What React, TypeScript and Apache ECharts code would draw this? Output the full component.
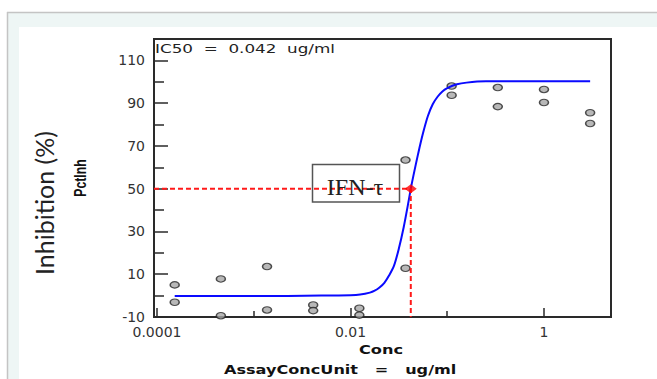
import { useEffect, useRef } from 'react';
import * as echarts from 'echarts';

// Assay concentrations (ug/ml), 3-fold dilution series
const concentrations = [0.0001524, 0.0004572, 0.001372, 0.004115, 0.01235, 0.03704, 0.1111, 0.3333, 1, 3];
// Percent inhibition, two replicates per concentration
const replicateA = [5.0, 7.8, 13.6, -4.4, -5.9, 63.4, 98.0, 97.3, 96.4, 85.5];
const replicateB = [-3.1, -9.4, -6.7, -7.0, -9.1, 12.8, 93.7, 88.4, 90.3, 80.5];

// Fitted curve
const fitConc = [
  0.0001524, 0.001, 0.005, 0.01, 0.01259, 0.01585, 0.01778, 0.01995, 0.02239, 0.02512,
  0.02818, 0.03162, 0.03548, 0.03981, 0.042, 0.04467, 0.05012, 0.05623, 0.0631, 0.07079,
  0.07943, 0.08913, 0.1, 0.1259, 0.1585, 0.2512, 1, 3,
];
const fitPct = [
  -0.2, -0.2, 0.0, 0.2, 0.5, 1.4, 2.3, 3.8, 6.0, 9.5,
  14, 22, 32, 44, 50, 56, 66.5, 76, 84, 89.5,
  93, 95.5, 97, 98.8, 99.6, 100.2, 100.3, 100.3,
];

const IC50 = 0.042;
const IC50_PCT = 50;
const X_MIN = 0.0000931;
const X_MAX = 4.93;
const Y_MIN = -10;
const Y_MAX = 120;

const yLabelValues = [-10, 10, 30, 50, 70, 90, 110];
const yMinorValues = [0, 20, 40, 60, 80, 100];
const xLabelValues = [0.0001, 0.01, 1];
const xLabelTexts = ['0.0001', '0.01', '1'];
const xMinorValues = [0.001, 0.1];

const IC50_TEXT = 'IC50  =  0.042  ug/ml';
const LEGEND_TEXT = 'IFN-τ';
const Y_TITLE = 'Inhibition (%)';
const Y_SUBTITLE = 'PctInh';
const X_TITLE = 'Conc';
const X_SUBTITLE = 'AssayConcUnit   =   ug/ml';

const ELLIPSE = 'path://M0,5C0,2.24 2.24,0 5,0C7.76,0 10,2.24 10,5C10,7.76 7.76,10 5,10C2.24,10 0,7.76 0,5Z';

function labelFor(v: number): string {
  for (let i = 0; i < xLabelValues.length; i++) {
    if (Math.abs(Math.log10(v) - Math.log10(xLabelValues[i])) < 1e-6) return xLabelTexts[i];
  }
  return '';
}

export default function App() {
  const ref = useRef<HTMLDivElement>(null);

  useEffect(() => {
    if (!ref.current) return;
    const chart = echarts.init(ref.current, null, { renderer: 'svg' });

    const points: number[][] = [];
    concentrations.forEach((c, i) => {
      points.push([c, replicateA[i]]);
      points.push([c, replicateB[i]]);
    });
    const curve = fitConc.map((c, i) => [c, fitPct[i]]);

    const tickFont = { fontFamily: 'DejaVu Sans', fontSize: 14, color: '#333' };

    chart.setOption({
      animation: false,
      backgroundColor: '#ffffff',
      grid: {
        left: 154,
        top: 39,
        right: 46,
        bottom: 62,
        show: true,
        borderColor: '#2a2a2a',
        borderWidth: 2,
        backgroundColor: '#ffffff',
        containLabel: false,
      },
      xAxis: [
        {
          type: 'log',
          logBase: 10,
          min: X_MIN,
          max: X_MAX,
          axisLine: { show: false, onZero: false },
          splitLine: { show: false },
          axisTick: {
            show: true,
            inside: true,
            length: 9,
            customValues: xLabelValues,
            lineStyle: { color: '#2a2a2a', width: 1.5 },
          },
          axisLabel: {
            ...tickFont,
            margin: 8,
            customValues: xLabelValues,
            formatter: (v: number) => labelFor(v),
          },
        },
        {
          type: 'log',
          logBase: 10,
          min: X_MIN,
          max: X_MAX,
          position: 'bottom',
          axisLine: { show: false, onZero: false },
          splitLine: { show: false },
          axisLabel: { show: false },
          axisTick: {
            show: true,
            inside: true,
            length: 6,
            customValues: xMinorValues,
            lineStyle: { color: '#2a2a2a', width: 1.5 },
          },
        },
      ],
      yAxis: [
        {
          type: 'value',
          min: Y_MIN,
          max: Y_MAX,
          position: 'left',
          axisLine: { show: false, onZero: false },
          splitLine: { show: false },
          axisTick: {
            show: true,
            inside: true,
            length: 14,
            customValues: yLabelValues,
            lineStyle: { color: '#2a2a2a', width: 1.5 },
          },
          axisLabel: {
            ...tickFont,
            margin: 9,
            customValues: yLabelValues,
          },
        },
        {
          type: 'value',
          min: Y_MIN,
          max: Y_MAX,
          position: 'left',
          axisLine: { show: false, onZero: false },
          splitLine: { show: false },
          axisLabel: { show: false },
          axisTick: {
            show: true,
            inside: true,
            length: 10,
            customValues: yMinorValues,
            lineStyle: { color: '#2a2a2a', width: 1.5 },
          },
        },
      ],
      series: [
        {
          name: 'PctInh',
          type: 'scatter',
          xAxisIndex: 0,
          yAxisIndex: 0,
          symbol: ELLIPSE,
          symbolSize: [9, 6.5],
          itemStyle: { color: '#a6a6a6', borderColor: '#262626', borderWidth: 1.3 },
          data: points,
          z: 2,
        },
        {
          name: 'Fit',
          type: 'line',
          xAxisIndex: 0,
          yAxisIndex: 0,
          smooth: 0.3,
          showSymbol: false,
          symbol: 'none',
          lineStyle: { color: '#0a0aff', width: 2 },
          data: curve,
          z: 3,
        },
        {
          name: 'IC50 guide',
          type: 'line',
          xAxisIndex: 0,
          yAxisIndex: 0,
          showSymbol: false,
          symbol: 'none',
          lineStyle: { color: '#ff1a1a', width: 2, type: [5, 3] },
          data: [
            [X_MIN, IC50_PCT],
            [IC50, IC50_PCT],
            [IC50, Y_MIN],
          ],
          z: 4,
        },
        {
          name: 'IC50',
          type: 'scatter',
          xAxisIndex: 0,
          yAxisIndex: 0,
          symbol: 'diamond',
          symbolSize: [12, 9],
          itemStyle: { color: '#ff0000' },
          data: [[IC50, IC50_PCT]],
          z: 5,
        },
      ],
      graphic: [
        { type: 'rect', silent: true, z: -10, shape: { x: 8, y: 13, width: 649, height: 14 }, style: { fill: '#eef6f5' } },
        { type: 'rect', silent: true, z: -10, shape: { x: 8, y: 13, width: 11, height: 366 }, style: { fill: '#eef6f5' } },
        { type: 'line', silent: true, z: -9, shape: { x1: 7, y1: 12.5, x2: 657, y2: 12.5 }, style: { stroke: '#c4c4c4', lineWidth: 1.5 } },
        { type: 'line', silent: true, z: -9, shape: { x1: 7.5, y1: 12, x2: 7.5, y2: 379 }, style: { stroke: '#c4c4c4', lineWidth: 1.5 } },
        {
          type: 'text',
          x: 155,
          y: 48.5,
          scaleX: 1.4,
          z: 10,
          style: { text: IC50_TEXT, font: '12px "DejaVu Sans"', fill: '#222', align: 'left', verticalAlign: 'middle' },
        },
        {
          type: 'rect',
          z: 10,
          shape: { x: 312.5, y: 164.5, width: 87, height: 37.5 },
          style: { fill: 'transparent', stroke: '#555', lineWidth: 1.5 },
        },
        {
          type: 'text',
          x: 355,
          y: 187,
          z: 10,
          style: { text: LEGEND_TEXT, font: '24px "Liberation Serif"', fill: '#222', align: 'center', verticalAlign: 'middle' },
        },
        {
          type: 'text',
          x: 44,
          y: 203,
          rotation: Math.PI / 2,
          z: 10,
          style: { text: Y_TITLE, font: '25px Lato', fill: '#222', align: 'center', verticalAlign: 'middle' },
        },
        {
          type: 'text',
          x: 80,
          y: 178,
          rotation: Math.PI / 2,
          scaleX: 0.72,
          z: 10,
          style: { text: Y_SUBTITLE, font: 'bold 17px "Liberation Sans"', fill: '#111', align: 'center', verticalAlign: 'middle' },
        },
        {
          type: 'text',
          x: 381,
          y: 350,
          scaleX: 1.35,
          z: 10,
          style: { text: X_TITLE, font: 'bold 12px "DejaVu Sans"', fill: '#111', align: 'center', verticalAlign: 'middle' },
        },
        {
          type: 'text',
          x: 224,
          y: 370,
          scaleX: 1.4,
          z: 10,
          style: { text: X_SUBTITLE, font: 'bold 11.5px "DejaVu Sans"', fill: '#111', align: 'left', verticalAlign: 'middle' },
        },
      ],
    });

    return () => {
      chart.dispose();
    };
  }, []);

  return (
    <div
      ref={ref}
      style={{ position: 'absolute', left: 0, top: 0, width: 657, height: 379, background: '#ffffff' }}
    />
  );
}
